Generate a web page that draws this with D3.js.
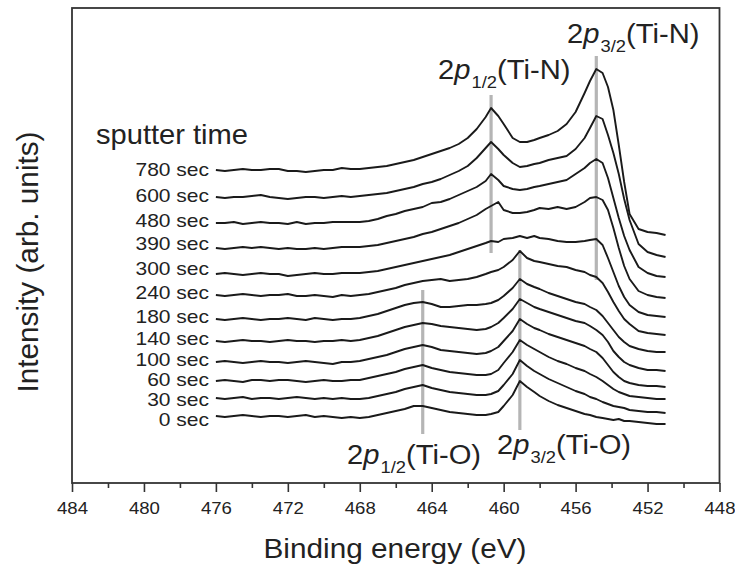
<!DOCTYPE html>
<html><head><meta charset="utf-8">
<script src="https://cdn.jsdelivr.net/npm/d3@7"></script>
<style>body{margin:0;background:#fff}svg{display:block}</style>
</head><body>
<svg id="chart" width="735" height="567"></svg>
<script>
// ---- data ----
const energies = [476,475.5,475,474.5,474,473.5,473,472.5,472,471.5,471,470.5,470,469.5,469,468.5,
  468,467.5,467,466.5,466,465.5,465,464.5,464,463.5,463,462.5,462,461.5,461,460.7,460.3,460,459.5,459.1,
  458.7,458.3,458,457.5,457,456.5,456,455.5,455.2,454.85,454.5,454.2,453.9,453.6,453.3,453,452.5,452,451.5,451];
const sputterTimes = ["780 sec","600 sec","480 sec","390 sec","300 sec","240 sec","180 sec","140 sec","100 sec","60 sec","30 sec","0 sec"];
const offsets = [313,286,260,235,209,188,164,142,121,103,85,67];
const s780 = [0,-1,0,1,0,0,1,1,-1,-1,-2,-1,0,0,2,1, 1,2,3,4,6,8,10,13,16,19, 22,26,32,41,53,62,54,46,32,28, 28,30,32,35,39,46,58,77,89,101, 97,83,60,25,-12,-44,-59,-62,-63,-65];
const s600 = [0,-1,0,0,1,2,0,-1,-2,-1,0,0,-1,0,1,0, 1,2,3,4,6,8,10,13,15,18, 22,26,31,39,49,55,48,42,34,30, 31,33,34,37,39,41,48,59,69,81, 78,62,44,23,-2,-23,-47,-55,-58,-60];
const s480 = [0,0,1,-1,0,1,0,0,-1,1,-1,0,0,1,1,1, 1,2,4,7,9,12,14,16,20,21, 24,28,32,36,42,49,43,37,34,33, 34,36,37,39,41,43,49,55,60,64, 60,45,25,5,-13,-27,-44,-50,-53,-54];
const s390 = [0,-1,0,1,0,1,0,-1,0,-1,-1,0,-1,0,1,1, 1,2,3,5,7,9,11,14,16,19, 22,25,29,33,39,42,46,38,35,35, 36,38,40,39,41,39,41,46,50,51, 48,38,20,0,-18,-31,-43,-47,-49,-50];
const s300 = [0,1,0,-1,0,1,0,0,-2,-1,0,1,0,0,1,1, 1,2,3,5,7,9,11,13,15,17, 19,22,25,28,31,33,32,35,36,38, 36,38,36,35,33,32,32,33,34,35, 29,16,2,-12,-23,-31,-38,-41,-42,-43];
const s240 = [0,-1,0,1,0,-1,0,0,1,-1,-1,0,-1,-2,0,-1, 0,1,3,5,7,10,12,14,15,16, 14,15,16,18,21,23,25,28,35,44, 37,34,33,31,29,28,25,23,20,18, 12,3,-7,-16,-24,-29,-36,-38,-39,-40];
const s180 = [0,-1,0,1,0,-1,0,0,1,0,-1,1,0,-1,0,0, 1,3,5,8,11,14,16,17,15,12, 12,13,14,14,15,16,19,23,31,40, 35,32,30,26,23,20,17,15,12,9, 3,-4,-11,-18,-23,-27,-30,-32,-33,-33];
const s140 = [0,-1,0,1,0,0,-1,0,1,0,0,-1,0,0,1,0, 1,3,5,8,11,14,16,18,17,15, 14,13,12,11,12,14,18,23,32,42, 38,34,32,29,26,23,20,18,15,11, 6,-1,-10,-16,-21,-24,-27,-29,-29,-30];
const s100 = [0,1,0,-1,0,1,0,0,-1,0,1,0,-1,-2,0,0, 1,3,5,7,10,13,15,17,15,12, 11,10,9,8,9,11,15,21,31,43, 38,34,32,28,25,22,19,16,13,10, 4,-3,-10,-15,-19,-21,-23,-24,-24,-25];
const s60 = [-1,0,-1,-2,0,0,-1,0,0,-1,-2,-1,0,-1,-1,0, 0,2,4,6,8,11,13,15,12,10, 8,7,6,5,5,6,10,17,28,40, 35,31,28,23,19,16,12,9,6,3, -1,-5,-9,-12,-14,-16,-17,-18,-19,-19];
const s30 = [0,-1,0,1,-1,0,0,-1,0,1,0,-1,0,-1,0,-1, -1,0,2,4,6,9,11,13,10,8, 6,5,4,3,3,4,7,13,24,38, 32,27,24,19,15,11,7,4,1,-1, -4,-6,-8,-9,-10,-12,-13,-14,-14,-15];
const s0 = [0,-1,0,1,0,-1,0,0,-1,0,1,-1,0,-1,-2,-1, -2,-1,1,3,5,7,10,10,8,6, 4,3,2,1,1,2,4,10,21,35, 29,24,20,15,11,8,5,2,1,-1, -2,-3,-4,-3,-5,-5,-6,-7,-8,-8];
const spectra = [s780,s600,s480,s390,s300,s240,s180,s140,s100,s60,s30,s0];
const majorTicks = [484,480,476,472,468,464,460,456,452,448];
const minorTicks = [482,478,474,470,466,462,458,454,450];
const peakNames = ["Ti-N","Ti-N","Ti-O","Ti-O"];
const peakSubs = ["3/2","1/2","3/2","1/2"];
const peakEnergies = [454.85,460.7,459.1,464.5];
const peakTop = [427,388,233,193];
const peakBottom = [203,230,53,49];

// ---- layout ----
const L = 72, R = 719.5, T = 8, B = 483;
const FONT = "'Liberation Sans', Arial, Helvetica, sans-serif";
const svg = d3.select("#chart");
const x = d3.scaleLinear().domain([484,448]).range([L,R]);
const y = d3.scaleLinear().domain([0,475]).range([B,T]);

// peak marker lines
peakEnergies.forEach((e,i)=>{
  svg.append("line")
    .attr("x1",x(e)).attr("x2",x(e))
    .attr("y1",y(peakTop[i])).attr("y2",y(peakBottom[i]))
    .attr("stroke","#b5b5b5").attr("stroke-width",3.2);
});

// spectra
const line = d3.line().x((d,i)=>x(energies[i])).y(d=>d).curve(d3.curveLinear);
spectra.forEach((s,k)=>{
  const pts = s.map(v=>y(offsets[k]+v));
  svg.append("path").attr("d",line(pts))
    .attr("fill","none").attr("stroke","#1a1a1a").attr("stroke-width",1.9)
    .attr("stroke-linejoin","round");
});

// sputter labels
const labelDy = [6,5,4,2,1,4,4,4,4,5.5,7.5,9.5];
sputterTimes.forEach((t,k)=>{
  svg.append("text")
    .attr("transform",`translate(209,${y(offsets[k])+labelDy[k]}) scale(1.2,1)`)
    .attr("text-anchor","end").attr("font-family",FONT).attr("font-size",17.5)
    .attr("fill","#222").text(t);
});
svg.append("text").attr("x",96).attr("y",144).attr("font-family",FONT)
  .attr("font-size",28).attr("fill","#222")
  .attr("textLength",152).attr("lengthAdjust","spacingAndGlyphs").text("sputter time");

// peak labels
const labelPos = [[567,43],[438,79],[497,454],[347,464]];
peakNames.forEach((n,i)=>{
  const t = svg.append("text")
    .attr("transform",`translate(${labelPos[i][0]},${labelPos[i][1]}) scale(1.08,1)`)
    .attr("font-family",FONT).attr("font-size",27).attr("fill","#222");
  t.append("tspan").text("2");
  t.append("tspan").attr("font-style","italic").text("p");
  t.append("tspan").attr("font-size",17).attr("dy",9).attr("dx",1).text(peakSubs[i]);
  t.append("tspan").attr("dy",-9).text("(" + n + ")");
});

// frame
svg.append("rect").attr("x",L).attr("y",T).attr("width",R-L).attr("height",B-T)
  .attr("fill","none").attr("stroke","#333").attr("stroke-width",1.8);

// axes
const gMaj = svg.append("g").attr("transform",`translate(0,${B})`)
  .call(d3.axisBottom(x).tickValues(majorTicks).tickSize(9).tickSizeOuter(0).tickPadding(10).tickFormat(d3.format("d")));
gMaj.select(".domain").remove();
gMaj.selectAll("line").attr("stroke","#333").attr("stroke-width",1.6);
gMaj.selectAll("text").attr("font-family",FONT).attr("font-size",17).attr("fill","#222")
  .attr("textLength",31).attr("lengthAdjust","spacingAndGlyphs");
const gMin = svg.append("g").attr("transform",`translate(0,${B})`)
  .call(d3.axisBottom(x).tickValues(minorTicks).tickSize(5).tickSizeOuter(0).tickFormat(""));
gMin.select(".domain").remove();
gMin.selectAll("line").attr("stroke","#333").attr("stroke-width",1.6);

// axis titles
svg.append("text").attr("x",395).attr("y",558).attr("text-anchor","middle")
  .attr("font-family",FONT).attr("font-size",28).attr("fill","#222")
  .attr("textLength",263).attr("lengthAdjust","spacingAndGlyphs").text("Binding energy (eV)");
svg.append("text").attr("transform","translate(38,262) rotate(-90)").attr("text-anchor","middle")
  .attr("font-family",FONT).attr("font-size",29).attr("fill","#222")
  .attr("textLength",261).attr("lengthAdjust","spacingAndGlyphs").text("Intensity (arb. units)");
</script>
</body></html>
